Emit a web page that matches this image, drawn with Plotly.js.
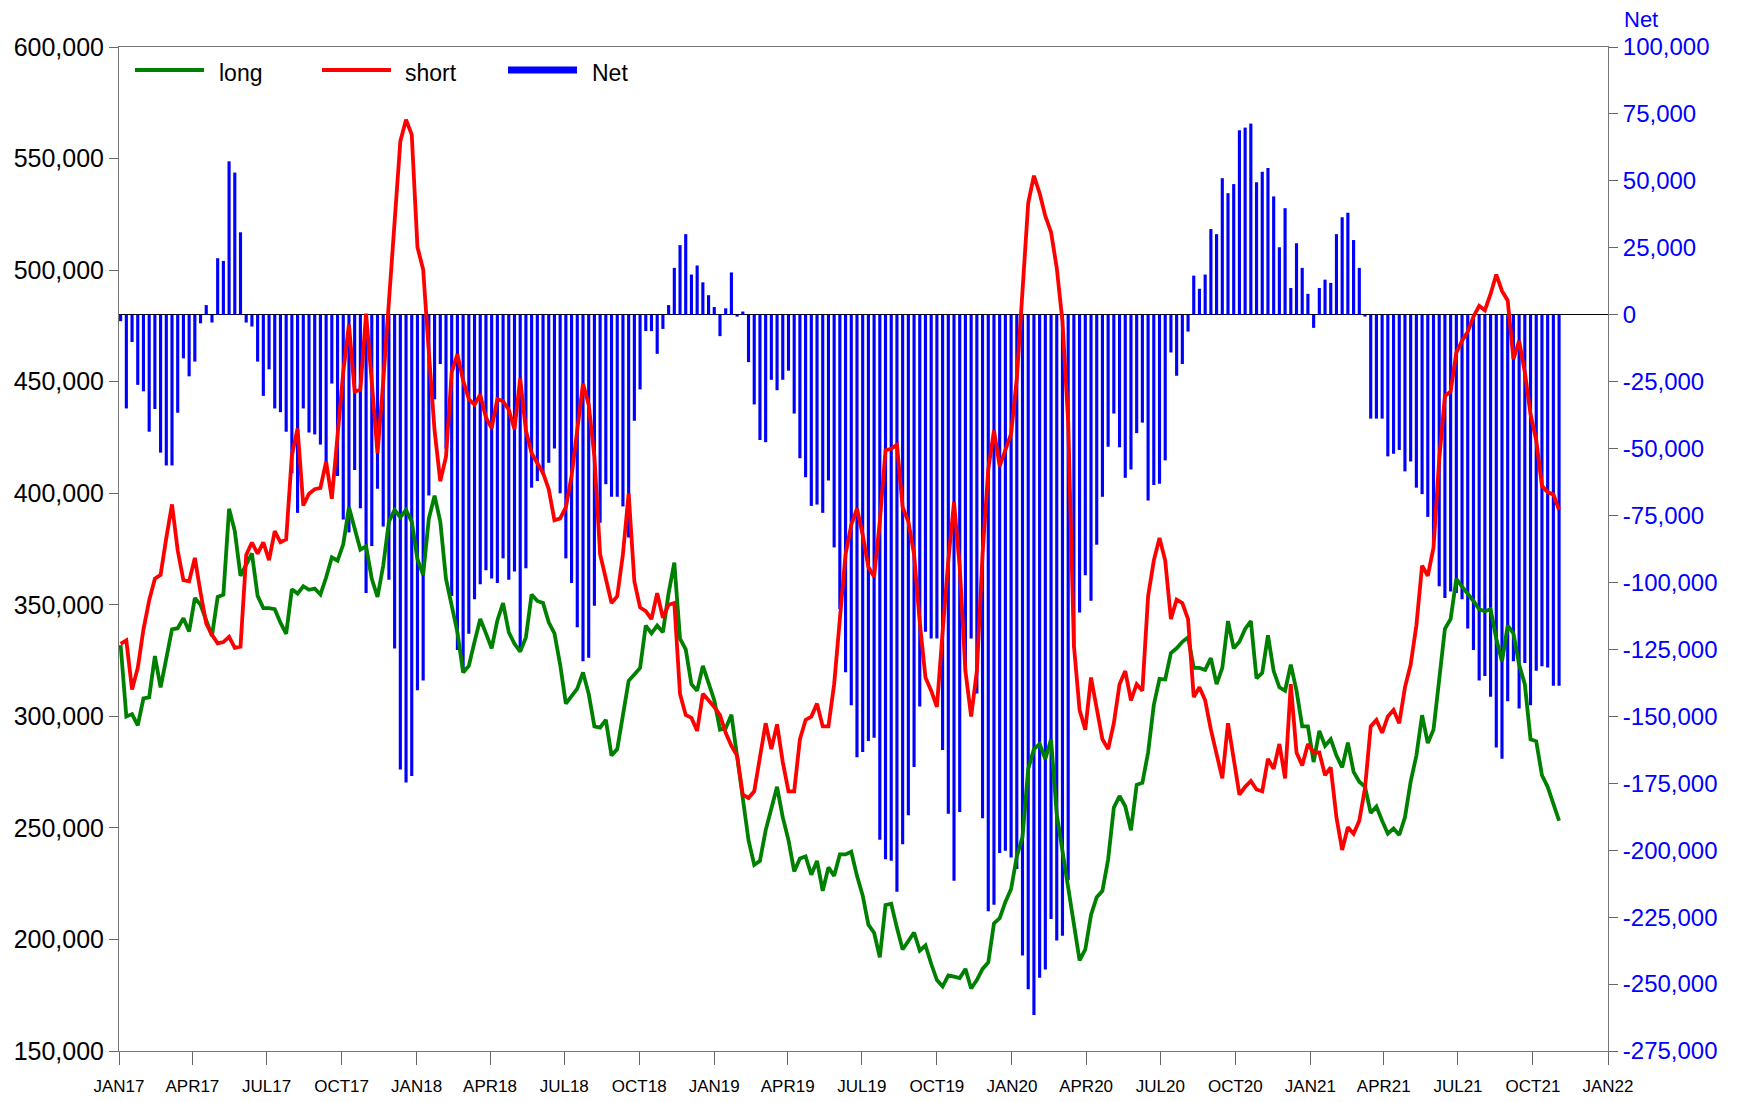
<!DOCTYPE html>
<html>
<head>
<meta charset="utf-8">
<script src="https://cdn.plot.ly/plotly-3.0.1.min.js"></script>
<style>html,body{margin:0;padding:0;background:#fff;}#chart{width:1746px;height:1102px;}</style>
</head>
<body>
<div id="chart"></div>
<script>
// Weekly observations, first report date and weekly step
const startDate = '2017-01-03';

const longVals = [
331900,299900,301000,296000,308000,308500,327000,313000,326000,339000,
339500,344000,338000,353000,350000,343000,336000,353500,354500,393000,
383000,363000,368000,373000,354000,348500,348500,348000,342000,337000,
357000,355000,358300,356700,357300,354600,362200,371300,369800,377100,
393700,383800,374700,376200,361600,353500,367500,387300,392500,389300,
392500,387300,370400,363400,388700,398900,387300,361600,348800,337700,
319700,322600,333400,343600,337200,330500,343000,350800,337700,332500,
329000,335400,354600,351700,350800,342100,337200,323200,305700,309200,
312400,319700,310100,295500,294900,298400,282400,285300,300500,315900,
318800,321700,340700,337200,340700,337700,355200,368900,334800,330000,
314400,311500,322600,314400,307200,294000,294600,300700,282400,262000,
244500,233400,235200,248900,259100,268400,254700,244500,230500,236300,
237200,229000,235200,221800,232300,228500,238100,238100,239300,228500,
219700,206600,203000,192000,215400,216000,205200,195500,199300,203100,
195000,197300,189100,181800,178900,183900,183300,182700,186800,178000,
181800,186800,189700,207200,209500,216800,222600,237200,246000,276500,
285300,287600,280900,289700,256000,240000,223000,206600,190600,195500,
211000,218900,221800,235800,259100,264300,259700,248900,269300,270200,
283800,305100,316800,316500,328400,330500,333400,335400,321700,321700,
320800,326100,314400,321700,342700,330500,333400,339200,342700,317000,
319500,336300,320300,313000,311500,323200,311500,295500,295500,279500,
293500,286800,289700,282400,277100,288200,275100,270700,268400,256700,
259600,253200,247400,249700,246800,254700,270700,282400,300500,288000,
294000,316500,339200,343600,361600,358100,355200,351700,348000,347100,
348000,334800,324600,340700,337200,323200,314400,289700,288800,273600,
268400,260500,253200
];

const shortVals = [
332500,334000,312000,321700,339000,352000,361700,363400,380000,395000,
374300,361000,360500,371000,355500,341500,336500,332700,333300,335600,
330700,331200,372300,377900,372900,378000,370000,383000,378000,379300,
417000,429000,394500,399800,401800,402400,414100,397500,425800,454300,
475600,445600,446400,480500,449900,417900,449900,486400,518400,557700,
567400,560700,510300,500300,463000,428100,405400,416400,454300,462200,
450500,442100,439700,444100,433900,429200,442200,441200,437400,428700,
451400,428100,417900,413500,409100,401800,387900,388700,393700,407700,
428700,449100,439700,416400,372700,362500,350800,353800,372700,399800,
360500,348800,347100,343600,355200,344200,350000,350800,310000,300600,
299300,293500,310100,307200,304200,300500,292600,286800,282400,264900,
263400,266400,282400,296900,285300,296400,279500,266400,266400,289700,
298400,299900,305700,295500,295500,314400,343600,372700,385800,393100,
381400,366900,362500,387300,419300,419900,421700,393700,387300,372700,
342100,317400,311500,304200,337700,369800,396000,366900,320300,299900,
320300,372700,410600,428100,412100,419300,426600,451400,492200,530100,
542300,534400,524200,517000,501000,477000,432000,331900,302800,294000,
317400,304200,289700,285300,296900,314400,320300,307200,314400,311500,
353800,369800,380000,369800,343600,352300,350800,343600,308600,313000,
307200,294000,282400,272200,296900,279500,264900,268400,271000,267200,
266400,280900,276500,287600,272200,314400,283800,278000,287600,283800,
283800,273600,277100,254700,240100,250300,247400,253200,267800,295500,
298400,292600,299900,302800,296900,313000,323200,340700,367500,363000,
375600,415000,443600,445600,463000,468300,472400,479100,484000,482000,
489300,498000,490700,486400,460100,468300,454300,435400,423700,403300,
400400,399500,392500
];

const netVals = [
-2400,-35000,-10200,-26200,-28600,-43700,-35200,-51500,-56300,-56300,
-36600,-16300,-23000,-17500,-3200,3600,-2900,21100,20100,57300,
53100,30800,-2900,-4400,-17500,-30300,-20400,-35000,-36400,-43700,
-59200,-74000,-35000,-44000,-44700,-48500,-55300,-25700,-60200,-76500,
-81300,-58000,-72300,-103900,-86400,-65000,-79100,-99000,-124700,-169900,
-174700,-172300,-140300,-136600,-67500,-31600,-18400,-50000,-105100,-125200,
-133000,-119200,-106300,-100700,-95400,-98500,-100200,-91000,-99000,-95900,
-124500,-94700,-64600,-62100,-59700,-55300,-50000,-66700,-91000,-100200,
-116700,-129400,-128100,-108700,-77700,-63300,-68000,-68000,-71600,-83200,
-39600,-27900,-6100,-6100,-14600,-5300,3600,17500,26000,30100,
15000,18400,12100,7300,2900,-8000,2400,15800,-700,1200,
-17700,-33500,-46800,-47600,-24300,-28200,-24300,-20900,-36900,-53600,
-60700,-71400,-70900,-74000,-61900,-86900,-109900,-133500,-145900,-165300,
-163300,-159200,-158000,-196100,-203400,-203900,-215500,-197800,-186900,-168900,
-146300,-118400,-120900,-120900,-162600,-186400,-211400,-185700,-133700,-120900,
-141500,-188100,-222800,-220400,-201000,-200200,-202700,-207000,-239300,-251900,
-261600,-247600,-244600,-225700,-233700,-232000,-211100,-124500,-111200,-97300,
-106800,-85900,-68000,-49300,-36900,-49500,-60900,-57800,-44200,-40300,
-69400,-63600,-63100,-54400,-14100,-22800,-18400,-6300,14600,9700,
15000,32000,30100,51000,45400,48800,68900,69900,71400,49500,
53400,54800,44200,25200,39800,10000,26700,17500,7800,-4900,
10000,13100,11900,30100,36400,38100,27900,17500,-700,-38800,
-38800,-38800,-52900,-51900,-50500,-58500,-54800,-64600,-67000,-75500,
-86200,-101400,-105800,-103400,-103900,-106300,-117200,-125200,-136600,-134900,
-142700,-161600,-165800,-144400,-129400,-147100,-130100,-145900,-133000,-131300,
-131800,-138600,-138600
];

const xTickVals = ['2017-01-01','2017-04-01','2017-07-01','2017-10-01','2018-01-01','2018-04-01','2018-07-01','2018-10-01',
  '2019-01-01','2019-04-01','2019-07-01','2019-10-01','2020-01-01','2020-04-01','2020-07-01','2020-10-01',
  '2021-01-01','2021-04-01','2021-07-01','2021-10-01','2022-01-01'];
const xTickText = ['JAN17','APR17','JUL17','OCT17','JAN18','APR18','JUL18','OCT18','JAN19','APR19','JUL19','OCT19',
  'JAN20','APR20','JUL20','OCT20','JAN21','APR21','JUL21','OCT21','JAN22'];
const netTickVals = [100000,75000,50000,25000,0,-25000,-50000,-75000,-100000,-125000,-150000,-175000,-200000,-225000,-250000,-275000];
const netTickText = ['100,000','75,000','50,000','25,000','0','-25,000','-50,000','-75,000','-100,000','-125,000','-150,000','-175,000','-200,000','-225,000','-250,000','-275,000'];
const seriesNames = ['long','short','Net'];
const seriesColors = ['#008000','#ff0000','#0000ff'];

function weekDates(start, n) {
  const d0 = new Date(start + 'T00:00:00Z').getTime();
  const out = [];
  for (let i = 0; i < n; i++) out.push(new Date(d0 + i * 7 * 86400000).toISOString().slice(0, 10));
  return out;
}
const dates = weekDates(startDate, netVals.length);

const FONT = 'Liberation Sans, Arial, Helvetica, sans-serif';

const traces = [
  {type: 'bar', x: dates, y: netVals, name: seriesNames[2], yaxis: 'y',
   marker: {color: seriesColors[2], line: {width: 0}}, hoverinfo: 'x+y'},
  {type: 'scatter', mode: 'lines', x: dates, y: longVals, name: seriesNames[0], yaxis: 'y2',
   line: {color: seriesColors[0], width: 3.8}},
  {type: 'scatter', mode: 'lines', x: dates, y: shortVals, name: seriesNames[1], yaxis: 'y2',
   line: {color: seriesColors[1], width: 3.8}}
];

function px(x) { return (x - 119) / 1489; }
function py(y) { return (1051 - y) / 1004; }

const legendY = py(70), legendTextY = py(73);
const legendItems = [
  {x0: 135, x1: 204, tx: 217, w: 4, i: 0},
  {x0: 322, x1: 391, tx: 403, w: 4, i: 1},
  {x0: 508, x1: 577, tx: 590, w: 7, i: 2}
];
const shapes = legendItems.map(it => ({
  type: 'line', xref: 'paper', yref: 'paper', x0: px(it.x0), x1: px(it.x1), y0: legendY, y1: legendY,
  line: {color: seriesColors[it.i], width: it.w}
}));
const annotations = legendItems.map(it => ({
  xref: 'paper', yref: 'paper', x: px(it.tx), y: legendTextY, xanchor: 'left', yanchor: 'middle',
  text: seriesNames[it.i], showarrow: false, font: {family: FONT, size: 23, color: '#000'}
}));
annotations.push({xref: 'paper', yref: 'paper', x: px(1622), y: py(19), xanchor: 'left', yanchor: 'middle',
  text: 'Net', showarrow: false, font: {family: FONT, size: 22, color: '#0000ff'}});

const layout = {
  width: 1746, height: 1102, autosize: false,
  margin: {l: 119, r: 138, t: 47, b: 51, pad: 0},
  paper_bgcolor: '#fff', plot_bgcolor: '#fff',
  showlegend: false,
  bargap: 0.45,
  font: {family: FONT},
  xaxis: {
    type: 'date', range: ['2017-01-01', '2022-01-01'],
    tickmode: 'array', tickvals: xTickVals, ticktext: xTickText,
    ticks: 'outside', ticklen: 13, tickcolor: '#666', tickwidth: 1,
    showline: true, linecolor: '#777', linewidth: 1, mirror: true,
    showgrid: false, zeroline: false,
    tickfont: {family: FONT, size: 17, color: '#000'},
    ticklabelstandoff: 7
  },
  yaxis: {
    side: 'right', range: [-275000, 100000],
    tickmode: 'array', tickvals: netTickVals, ticktext: netTickText,
    ticks: 'outside', ticklen: 9, tickcolor: '#666',
    showline: true, linecolor: '#777', linewidth: 1,
    showgrid: false, zeroline: true, zerolinecolor: '#000', zerolinewidth: 1,
    tickfont: {family: FONT, size: 24, color: '#0000ff'}
  },
  yaxis2: {
    overlaying: 'y', side: 'left', range: [150000, 600000], dtick: 50000, tick0: 150000,
    tickformat: ',d',
    ticks: 'outside', ticklen: 9, tickcolor: '#666',
    showline: true, linecolor: '#777', linewidth: 1,
    showgrid: false, zeroline: false,
    tickfont: {family: FONT, size: 25, color: '#000'}
  },
  shapes: shapes,
  annotations: annotations
};

Plotly.newPlot('chart', traces, layout, {displayModeBar: false, staticPlot: true});
</script>
</body>
</html>
